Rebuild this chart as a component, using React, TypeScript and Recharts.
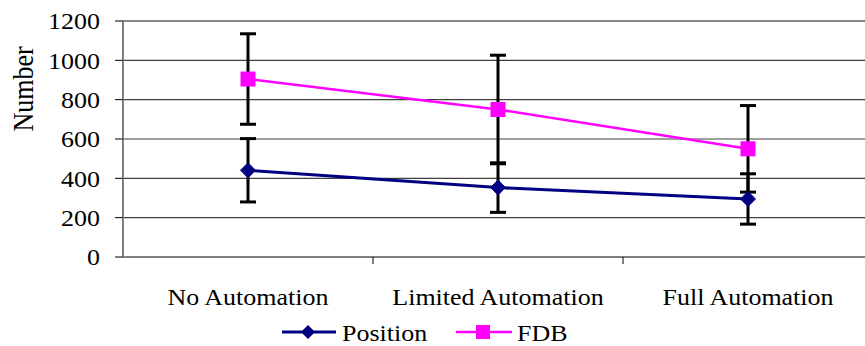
import React from 'react';
import { ComposedChart, Line, XAxis, YAxis, CartesianGrid, ErrorBar, Legend, ReferenceLine } from 'recharts';

const categories = ['No Automation', 'Limited Automation', 'Full Automation'];
const positionValues = [441, 353, 295];
const positionErrors = [161, 126, 128];
const fdbValues = [905, 750, 550];
const fdbErrors = [230, 276, 220];
const yTicks = [0, 200, 400, 600, 800, 1000, 1200];

const data = categories.map((name, i) => ({
  name,
  position: positionValues[i],
  positionErr: positionErrors[i],
  fdb: fdbValues[i],
  fdbErr: fdbErrors[i],
}));

const FONT = 'Liberation Serif, DejaVu Serif, serif';
const FS = 23;
const SX = 1.13;
const NAVY = '#000080';
const MAGENTA = '#FF00FF';
const AXIS_GRAY = '#808080';

const Diamond = (props: any) => {
  const { cx, cy } = props;
  if (cx == null || cy == null) return null;
  const r = 7.5;
  return (
    <path
      key={`d-${cx}`}
      d={`M${cx},${cy - r}L${cx + r},${cy}L${cx},${cy + r}L${cx - r},${cy}Z`}
      fill={NAVY}
      stroke={NAVY}
      strokeWidth={1}
    />
  );
};

const Square = (props: any) => {
  const { cx, cy } = props;
  if (cx == null || cy == null) return null;
  const s = 14;
  return <rect key={`s-${cx}`} x={cx - s / 2} y={cy - s / 2} width={s} height={s} fill={MAGENTA} stroke={MAGENTA} />;
};

const XTick = (props: any) => {
  const { x, y, payload } = props;
  const off = payload?.offset ?? 0;
  const axisY = y - 8;
  return (
    <g>
      <line x1={x + off} x2={x + off} y1={axisY} y2={axisY + 7} stroke="#000" strokeWidth={1} />
      <text
        transform={`translate(${x},${axisY + 48}) scale(${SX},1)`}
        textAnchor="middle"
        style={{ fontFamily: FONT, fontSize: FS }}
        fill="#000"
      >
        {payload.value}
      </text>
    </g>
  );
};

const YTick = (props: any) => {
  const { x, y, payload } = props;
  return (
    <text
      transform={`translate(${x},${y}) scale(${SX},1)`}
      textAnchor="end"
      dy="0.355em"
      style={{ fontFamily: FONT, fontSize: FS }}
      fill="#000"
    >
      {payload.value}
    </text>
  );
};

const YLabel = (props: any) => {
  const vb = props.viewBox || { x: 0, y: 0 };
  const cx = vb.x + 33;
  const cy = vb.y + 68;
  return (
    <text
      transform={`translate(${cx},${cy}) scale(${SX},1) rotate(-90)`}
      textAnchor="middle"
      style={{ fontFamily: FONT, fontSize: 26 }}
      fill="#000"
    >
      Number
    </text>
  );
};

const textStyle: React.CSSProperties = {
  display: 'inline-block',
  transform: `scaleX(${SX})`,
  transformOrigin: 'left center',
  position: 'relative',
  top: 2,
  whiteSpace: 'nowrap',
};

const LegendContent = () => (
  <div style={{ display: 'flex', alignItems: 'center', height: 28, paddingLeft: 282, fontFamily: FONT, fontSize: FS, color: '#000', lineHeight: '28px' }}>
    <svg width={54} height={20} style={{ display: 'block' }}>
      <line x1={0} x2={54} y1={10} y2={10} stroke={NAVY} strokeWidth={3} />
      <path d="M26,3L33,10L26,17L19,10Z" fill={NAVY} />
    </svg>
    <span style={{ ...textStyle, marginLeft: 6 }}>Position</span>
    <svg width={56} height={20} style={{ display: 'block', marginLeft: 39 }}>
      <line x1={0} x2={56} y1={10} y2={10} stroke={MAGENTA} strokeWidth={2.5} />
      <rect x={20} y={3} width={14} height={14} fill={MAGENTA} />
    </svg>
    <span style={{ ...textStyle, marginLeft: 5 }}>FDB</span>
  </div>
);

export default function App() {
  return (
    <div style={{ position: 'absolute', left: 0, top: 0, width: 865, height: 346, overflow: 'hidden', background: '#fff', fontFamily: FONT }}>
      <ComposedChart width={880} height={346} data={data} margin={{ top: 21, right: 7, left: 0, bottom: 29 }}>
        <CartesianGrid horizontal={true} vertical={false} stroke="#404040" strokeWidth={1.2} />
        <ReferenceLine y={1200} stroke={AXIS_GRAY} strokeWidth={1.5} />
        <XAxis
          dataKey="name"
          type="category"
          scale="band"
          height={60}
          tickSize={6}
          tickMargin={2}
          tickLine={false}
          axisLine={{ stroke: AXIS_GRAY, strokeWidth: 2 }}
          tick={<XTick />}
          interval={0}
        />
        <YAxis
          type="number"
          domain={[0, 1200]}
          ticks={yTicks}
          width={123}
          tickSize={8}
          tickMargin={15}
          tickLine={{ stroke: '#000' }}
          axisLine={{ stroke: AXIS_GRAY, strokeWidth: 2 }}
          tick={<YTick />}
          interval={0}
          label={<YLabel />}
        />
        <Legend
          layout="horizontal"
          verticalAlign="middle"
          align="center"
          wrapperStyle={{ top: 318, left: 0, width: 865 }}
          content={<LegendContent />}
        />
        <Line
          dataKey="position"
          stroke={NAVY}
          strokeWidth={3}
          dot={Diamond}
          activeDot={false}
          isAnimationActive={false}
        >
          <ErrorBar dataKey="positionErr" direction="y" width={8} stroke="#000" strokeWidth={3} isAnimationActive={false} />
        </Line>
        <Line
          dataKey="fdb"
          stroke={MAGENTA}
          strokeWidth={2.5}
          dot={Square}
          activeDot={false}
          isAnimationActive={false}
        >
          <ErrorBar dataKey="fdbErr" direction="y" width={8} stroke="#000" strokeWidth={3} isAnimationActive={false} />
        </Line>
      </ComposedChart>
    </div>
  );
}
